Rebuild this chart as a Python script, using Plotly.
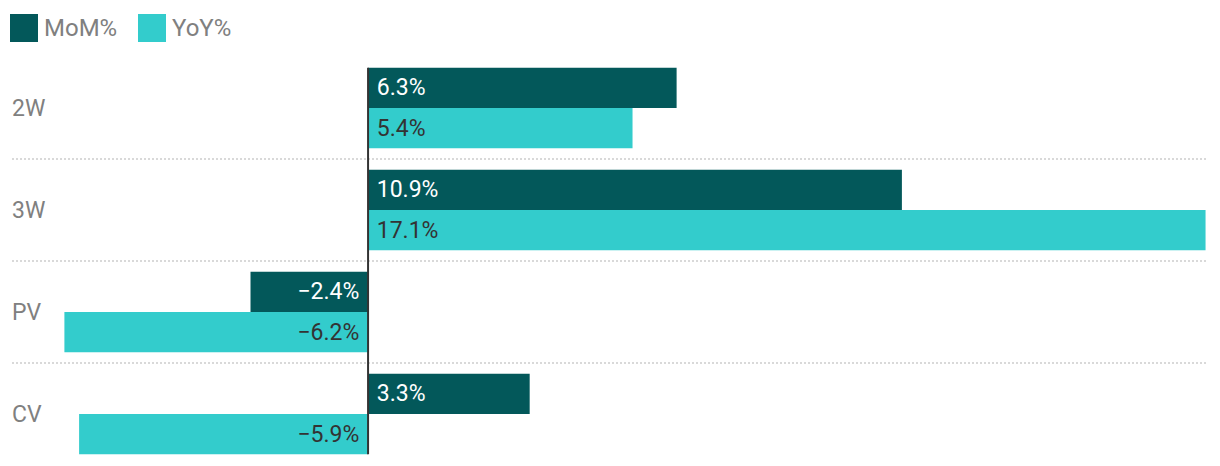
import plotly.graph_objects as go

categories = ["2W", "3W", "PV", "CV"]
mom = [6.3, 10.9, -2.4, 3.3]
yoy = [5.4, 17.1, -6.2, -5.9]
series_names = ["MoM%", "YoY%"]

DARK = "#03585a"
CYAN = "#33cccc"
GRAY = "#808080"
FONT = "Roboto"

W, H = 1220, 466
ML, MR, MT, MB = 12, 12, 57, 1
PW, PH = W - ML - MR, H - MT - MB


def px_x(x):
    return (x - ML) / PW


def px_y(y):
    return 1 - (y - MT) / PH


def fmt(v):
    s = f"{abs(v):.1f}%"
    return ("\u2212" + s + " ") if v < 0 else (" " + s)


fig = go.Figure()
for name, vals, col, tcol in [(series_names[0], mom, DARK, "white"),
                              (series_names[1], yoy, CYAN, "#333333")]:
    fig.add_trace(go.Bar(
        name=name, y=categories, x=vals, orientation="h",
        marker=dict(color=col, line=dict(width=0)),
        text=[fmt(v) for v in vals], textposition="inside",
        insidetextanchor="start",
        insidetextfont=dict(color=tcol, size=23, family=FONT),
        constraintext="none",
        hoverinfo="skip",
    ))

# gridlines between categories
for i in range(len(categories) - 1):
    fig.add_shape(type="line", xref="paper", yref="y", x0=0, x1=1,
                  y0=i + 0.5, y1=i + 0.5, layer="below",
                  line=dict(color="#d9d9d9", width=2, dash="2px,2px"))

# zero line across bars
half = (1 - 0.21) / 2
fig.add_shape(type="line", xref="x", yref="y", x0=0, x1=0,
              y0=-half, y1=len(categories) - 1 + half, layer="above",
              line=dict(color="#333333", width=2))

# manual legend
for x0, col, name in [(10, DARK, series_names[0]), (138, CYAN, series_names[1])]:
    fig.add_shape(type="rect", xref="paper", yref="paper",
                  x0=px_x(x0), x1=px_x(x0 + 28), y0=px_y(14), y1=px_y(42),
                  fillcolor=col, line=dict(width=0))
    fig.add_annotation(xref="paper", yref="paper", x=px_x(x0 + 32), y=px_y(28),
                       text=name, showarrow=False, xanchor="left", yanchor="middle",
                       font=dict(size=24, color=GRAY, family=FONT))

fig.update_layout(
    width=W, height=H,
    margin=dict(l=ML, r=MR, t=MT, b=MB, pad=0),
    barmode="group", bargap=0.21, bargroupgap=0,
    showlegend=False,
    plot_bgcolor="white", paper_bgcolor="white",
    font=dict(family=FONT, color=GRAY),
    xaxis=dict(range=[-7.27, 17.15], visible=False, fixedrange=True),
    yaxis=dict(type="category", categoryorder="array", categoryarray=categories,
               range=[len(categories) - 0.5, -0.5], showgrid=False,
               zeroline=False, showline=False, ticks="",
               ticklabelposition="inside", ticklabelstandoff=-3,
               tickfont=dict(size=23, color=GRAY, family=FONT)),
    uniformtext=dict(mode=False),
)

fig.write_html("out.html")
